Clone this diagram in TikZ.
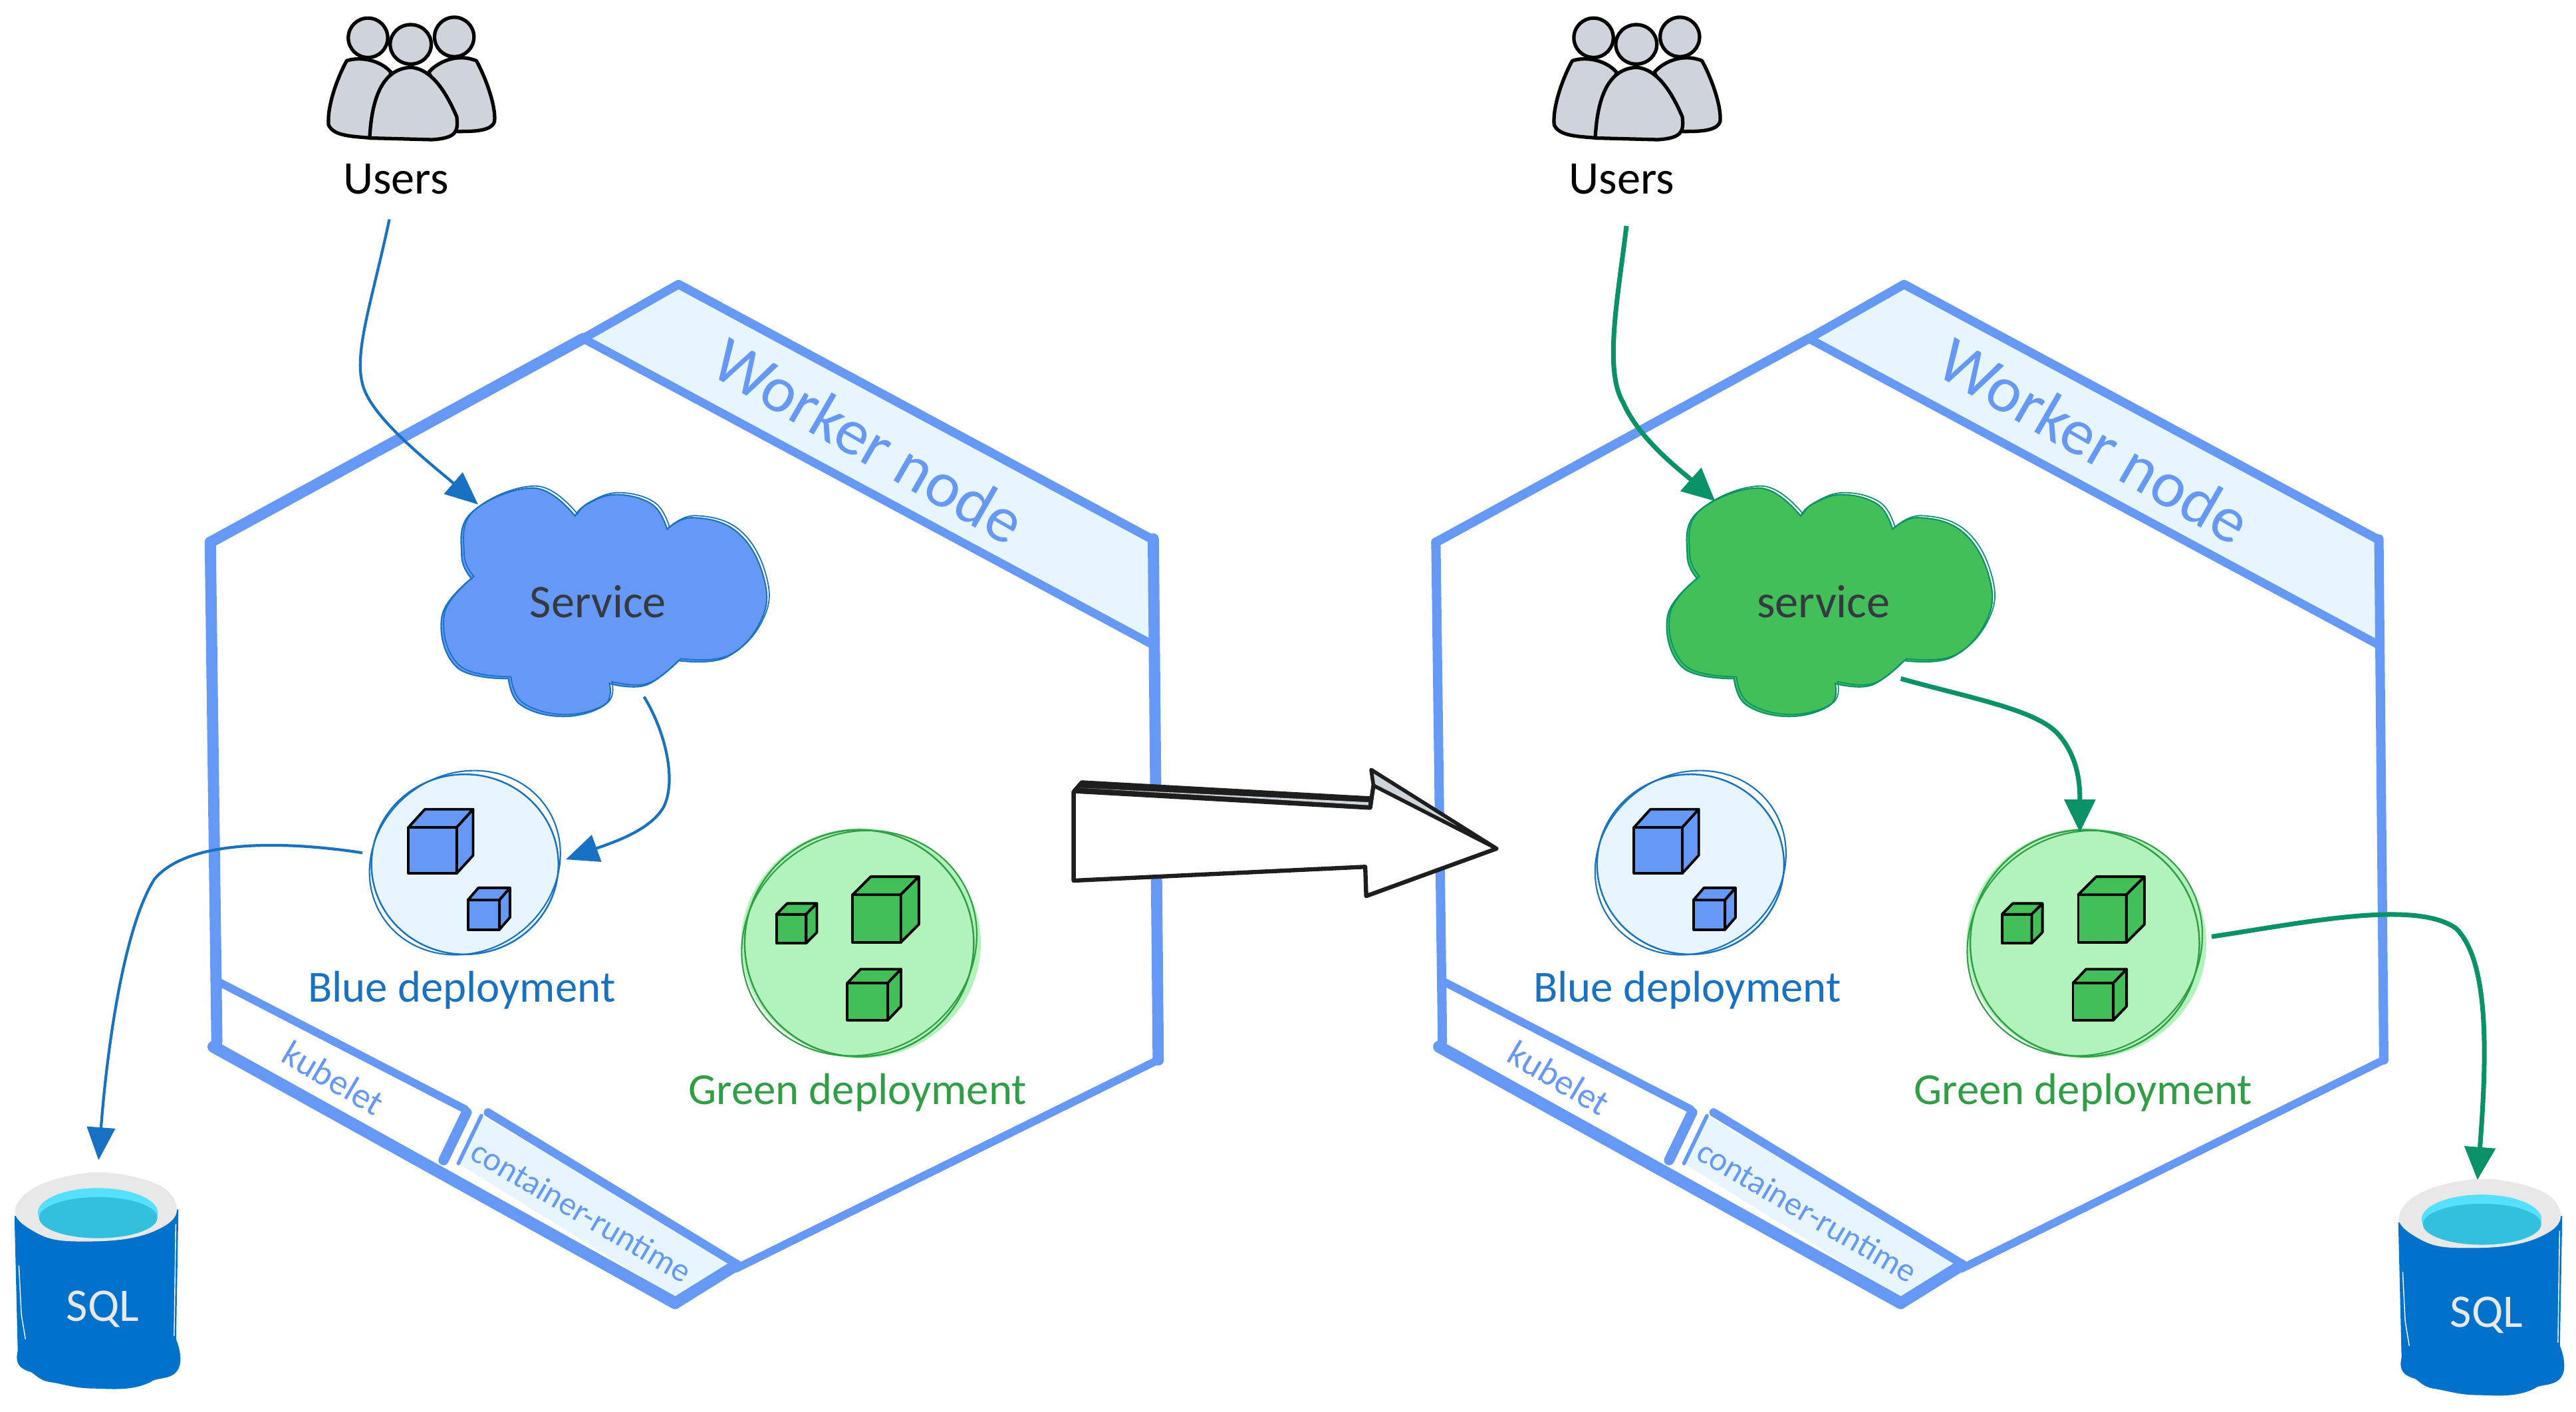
\documentclass[tikz,border=0pt]{standalone}
\usepackage{fontspec}
\setmainfont{Carlito}
\usetikzlibrary{shapes.geometric, arrows.meta, positioning, calc}

\definecolor{hexline}{HTML}{6699F5}
\definecolor{bandfill}{HTML}{E7F5FF}
\definecolor{blueline}{HTML}{1971C2}
\definecolor{greenline}{HTML}{2F9E44}
\definecolor{greenflow}{HTML}{099268}
\definecolor{greenbody}{HTML}{42BF58}
\definecolor{greenpale}{HTML}{B2F2BB}
\definecolor{usergray}{HTML}{CED4DA}
\definecolor{inkdark}{HTML}{343A40}
\definecolor{inkblack}{HTML}{1E1E1E}
\definecolor{sqlblue}{HTML}{0072CC}
\definecolor{sqlcyan}{HTML}{32C0DE}
\definecolor{sqlsky}{HTML}{55E0FF}
\definecolor{sqlgray}{HTML}{E8E8E8}

\tikzset{
  hexedge/.style={draw=hexline, line cap=round, line join=round},
  usershape/.style={draw=black, fill=usergray, line width=1.5pt, line join=round},
  cubeface/.style={draw=black, line width=1.1pt, line join=round},
  deploy/.style={ellipse, inner sep=0pt, line width=0.7pt},
  flowblue/.style={draw=blueline, line width=1.2pt, -{Triangle[length=14pt,width=12pt,fill=blueline]}},
  flowgreen/.style={draw=greenflow, line width=2pt, -{Triangle[length=14pt,width=13pt,fill=greenflow]}},
  bandtext/.style={text=hexline, rotate=-30.5, inner sep=0pt},
  deploytext/.style={font=\fontsize{19}{19}\selectfont, inner sep=0pt},
}

% cloud outline, lobe by lobe
\def\cloudshape{plot[smooth,tension=.7] coordinates {(350,314) (325,297) (287,312) (281,338) (287,352)}
  -- plot[smooth,tension=.7] coordinates {(287,352) (269,375) (278,406) (309.5,413)}
  -- plot[smooth,tension=.7] coordinates {(309.5,413) (317,429) (343,436) (368,429) (371,416)}
  -- plot[smooth,tension=.7] coordinates {(371,416) (393,417) (413,402)}
  -- plot[smooth,tension=.7] coordinates {(413,402) (442,400) (463,378) (465,352) (449,324) (422,315) (406,322)}
  -- plot[smooth,tension=.7] coordinates {(406,322) (397,307) (375,301) (357,307) (350,314)} -- cycle}

% x, y, width, height, depth x, depth y, colour
\newcommand{\boxcube}[7]{
  \filldraw[cubeface, fill=#7] (#1,#2) rectangle ++(#3,#4);
  \filldraw[cubeface, fill=#7] (#1,#2) -- ++(#5,-#6) -- ++(#3,0) -- ++(-#5,#6) -- cycle;
  \filldraw[cubeface, fill=#7] ({#1+#3},#2) -- ++(#5,-#6) -- ++(0,#4) -- ++(-#5,#6) -- cycle;
}

\begin{document}
\begin{tikzpicture}[x=0.024707cm,y=-0.024707cm]
\useasboundingbox (0,0) rectangle (1568,859);

\foreach \dx/\tag/\svc/\svcfill/\svcline/\edgewd in {0/L/Service/hexline/blueline/4.8pt, 746/R/service/greenbody/greenflow/4pt} {
\begin{scope}[shift={(\dx,0)}]
% Hexagon with its bands
\fill[bandfill] (355,206) -- (413,173) -- (701,328) -- (701,392) -- cycle;
\fill[bandfill] (293,679) -- (448,769) -- (411,790) -- (279,708) -- cycle;
\draw[hexedge, line width=\edgewd] (128,330) -- (355,206);
\draw[hexedge, line width=3.8pt] (355,206) -- (413,173) -- (701,328);
\draw[hexedge, line width=3.6pt] (355,206) -- (701,392);
\draw[hexedge, line width=\edgewd] (702,328) -- (705,645);
\draw[hexedge, line width=3.4pt] (705,645) -- (448,772);
\draw[hexedge, line width=5pt] (448,770) -- (411,793);
\draw[hexedge, line width=\edgewd] (128,330) -- (132,634);
\draw[hexedge, line width=5.2pt] (130,637) -- (411,793);
\draw[hexedge, line width=3.4pt] (134,598) -- (283,675);
\draw[hexedge, line width=3.6pt] (297,677) -- (448,769);
\draw[hexedge, line width=4.4pt] (284,677) -- (270,706);
\draw[hexedge, line width=1.6pt] (293,679) -- (279,708);

\node[text=hexline, font=\fontsize{28}{28}\selectfont, rotate=-30, inner sep=0pt] (worker\tag) at (529,268) {Worker node};
\node[bandtext, font=\fontsize{15.5}{15.5}\selectfont] (kubelet\tag) at (203,656) {kubelet};
\node[bandtext, font=\fontsize{14.4}{14.4}\selectfont] (runtime\tag) at (354,737) {container-runtime};

% Users
\filldraw[usershape] (238,44) .. controls (232,37) and (220,34) .. (211,37) .. controls (205,48) and (199,65) .. (200,76) .. controls (203,83) and (215,83) .. (226,84) -- cycle;
\filldraw[usershape] (261,44) .. controls (266,38) and (278,32) .. (290,37) .. controls (296,48) and (302,65) .. (301,74) .. controls (299,80) and (288,80) .. (278,80) -- cycle;
\filldraw[usershape] (225,84) .. controls (226,66) and (230,42) .. (250,41) .. controls (265,42) and (274,62) .. (278,71) .. controls (279,80) and (278,84) .. (263,85) -- cycle;
\filldraw[usershape] (224,23) ellipse (12 and 12);
\filldraw[usershape] (276.5,22.5) ellipse (12 and 12);
\filldraw[usershape] (250,27) ellipse (12.5 and 12);
\node[font=\fontsize{20}{20}\selectfont, inner sep=0pt] (users\tag) at (241,109) {Users};

% Service cloud
\fill[\svcfill] \cloudshape;
\draw[\svcline, line width=0.6pt] \cloudshape;
\begin{scope}[shift={(1.5,-1.2)}]
\draw[\svcline, line width=0.5pt] \cloudshape;
\end{scope}
\node[ellipse, minimum width=140pt, minimum height=98pt, inner sep=0pt, text=inkdark, font=\fontsize{20}{20}\selectfont] (svc\tag) at (364,366) {\svc};

% Blue deployment
\node[deploy, fill=bandfill, draw=blueline, minimum width=80pt, minimum height=77pt] (blue\tag) at (283,526) {};
\draw[blueline, line width=0.6pt, rotate around={35:(283,525)}] (283,525) ellipse (60 and 54);
\boxcube{248.6}{503.5}{29.4}{28}{10}{11}{hexline}
\boxcube{284.8}{547.7}{19.2}{18}{6.4}{7.4}{hexline}
\node[deploytext, text=blueline] (bluetext\tag) at (281,602.5) {Blue deployment};

% Green deployment
\fill[greenpale] (524,574) ellipse (73 and 70);
\node[deploy, draw=greenline, minimum width=98pt, minimum height=97pt] (green\tag) at (523,574) {};
\draw[greenline, line width=0.6pt, rotate around={30:(523,574)}] (523,574) ellipse (73 and 67);
\boxcube{519}{544.5}{29.3}{29}{11}{11}{greenbody}
\boxcube{472.6}{556.4}{18.1}{17.6}{6.5}{6.6}{greenbody}
\boxcube{515.8}{598.2}{24.6}{22.6}{8}{8.4}{greenbody}
\node[deploytext, text=greenline] (greentext\tag) at (522,665) {Green deployment};
\end{scope}
}

% SQL stores
\foreach \tag/\sx/\sy in {L/0/0, R/1451/4} {
\begin{scope}[shift={(\sx,\sy)}]
\fill[sqlblue] (8.8,740) -- (108.6,736) -- (107.2,815) .. controls (110,822) and (111,830) .. (108,834) .. controls (104,840) and (95,838) .. (91.7,841) .. controls (80,847) and (65,845) .. (58,845) .. controls (45,845) and (38,842) .. (30,841) .. controls (24,840) and (21,836) .. (18.9,835) .. controls (12,833) and (9,830) .. (10.8,822) -- cycle;
\draw[white, line width=0.4pt] (11.5,770) -- (13,800) -- (15.5,815);
\draw[white, line width=0.4pt] (107,745) -- (106,813);
\fill[sqlgray] plot[smooth cycle, tension=.8] coordinates {(10.8,732) (40,716) (81,716) (106.6,731) (94.4,749) (51,755.5) (20,749)};
\fill[sqlsky] (59.5,738) ellipse (36.5 and 15);
\fill[sqlcyan] (59.8,741) ellipse (36 and 12.5);
\node[text=sqlgray, font=\fontsize{20}{20}\selectfont, inner sep=0pt] (sql\tag) at (62.5,796.5) {SQL};
\coordinate (top\tag) at (60,706);
\end{scope}
}

% Flows on the left
\draw[flowblue] ([shift={(-4,15)}]usersL.south) .. controls (226,185) and (215,215) .. (221,235) .. controls (227,255) and (262,282) .. (291,307);
\draw[flowblue] ([shift={(28,58)}]svcL.center) .. controls (405,445) and (412,475) .. (404,491) .. controls (396,505) and (375,512) .. ([shift={(4,-3)}]blueL.east);
\draw[flowblue] ([shift={(-5,-7)}]blueL.west) .. controls (175,512) and (115,510) .. (94,535) .. controls (75,565) and (65,640) .. (topL);

% Flows on the right
\draw[flowgreen] ([shift={(3,19)}]usersR.south) .. controls (985,180) and (976,225) .. (988,245) .. controls (998,268) and (1025,288) .. (1044,305);
\draw[flowgreen] ([shift={(47,47)}]svcR.center) .. controls (1200,425) and (1240,432) .. (1253,447) .. controls (1266,462) and (1266,480) .. ([shift={(-3,2)}]greenR.north);
\draw[flowgreen] ([shift={(7,-4)}]greenR.east) .. controls (1400,562) and (1470,547) .. (1495,565) .. controls (1515,585) and (1514,640) .. ([shift={(-3,8)}]topR);

% Hollow arrow between the two states
\fill[white] (653.5,481.6) -- (834,491.7) -- (836,478) -- (911,516.4) -- (831.6,545.3) -- (831,527.5) -- (653.5,535.9) -- cycle;
\filldraw[draw=inkblack, fill=inkblack, line width=1.6pt, line join=round] (653.5,481.6) -- (658.4,476) -- (833.6,485.7) -- (834,491.7) -- cycle;
\fill[usergray] (657,479.4) -- (833,488.2) -- (833,490) -- cycle;
\filldraw[draw=inkblack, fill=usergray, line width=1.6pt, line join=round] (836,478) -- (834.6,468.4) -- (911,516.4) -- cycle;
\draw[inkblack, line width=1.8pt, line join=round] (834,491.7) -- (836,478) (911,516.4) -- (831.6,545.3) -- (831,527.5) -- (653.5,535.9) -- (653.5,481.6);
\end{tikzpicture}
\end{document}
